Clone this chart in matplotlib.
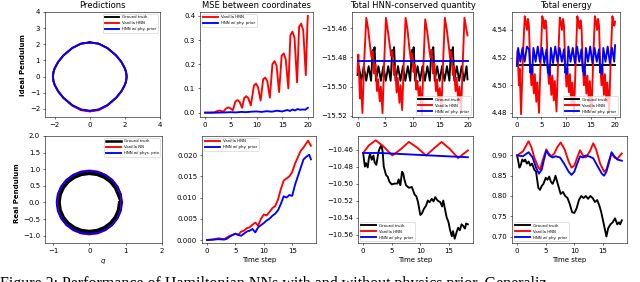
import matplotlib
matplotlib.use("Agg")
import matplotlib.pyplot as plt
from matplotlib.ticker import MultipleLocator

# ---------------- data ----------------
# Ideal pendulum phase portrait (q, p)
q_ideal = [0, 0.5, 1.0, 1.5, 1.8, 2.0, 2.07, 2.1, 2.07, 2.0, 1.8, 1.5, 1.0, 0.5, 0,
           -0.5, -1.0, -1.5, -1.8, -2.0, -2.07, -2.1, -2.07, -2.0, -1.8, -1.5, -1.0, -0.5, 0]
p_ideal = [2.12, 2.04, 1.77, 1.31, 0.91, 0.51, 0.27, 0, -0.27, -0.51, -0.91, -1.31, -1.77, -2.04, -2.12,
           -2.04, -1.77, -1.31, -0.91, -0.51, -0.27, 0, 0.27, 0.51, 0.91, 1.31, 1.77, 2.04, 2.12]
p_ideal_red = [2.12, 2.04, 1.77, 1.31, 0.91, 0.51, 0.27, 0, -0.27, -0.51, -0.92, -1.33, -1.80, -2.08, -2.16,
               -2.08, -1.80, -1.33, -0.92, -0.51, -0.27, 0, 0.27, 0.51, 0.91, 1.31, 1.77, 2.04, 2.12]

# Real pendulum phase portrait
q_real_gt = [0.87, 0.84, 0.753, 0.615, 0.435, 0.225, 0, -0.225, -0.435, -0.615, -0.753, -0.84, -0.87,
             -0.84, -0.753, -0.615, -0.435, -0.225, 0, 0.225, 0.435, 0.615, 0.753, 0.84, 0.87,
             0.792, 0.71, 0.58, 0.41, 0.212, 0, -0.212, -0.41, -0.58, -0.71, -0.792, -0.82,
             -0.792, -0.71, -0.58, -0.41, -0.212, 0, 0.212, 0.41, 0.58, 0.71, 0.792, 0.82]
p_real_gt = [0, 0.238, 0.46, 0.65, 0.797, 0.889, 0.92, 0.889, 0.797, 0.65, 0.46, 0.238, 0,
             -0.238, -0.46, -0.65, -0.797, -0.889, -0.92, -0.889, -0.797, -0.65, -0.46, -0.238, 0,
             0.223, 0.43, 0.608, 0.745, 0.831, 0.86, 0.831, 0.745, 0.608, 0.43, 0.223, 0,
             -0.223, -0.43, -0.608, -0.745, -0.831, -0.86, -0.831, -0.745, -0.608, -0.43, -0.223, 0]
q_real_van = [0.89, 0.86, 0.771, 0.629, 0.445, 0.231, 0, -0.231, -0.445, -0.629, -0.771, -0.86, -0.89,
              -0.86, -0.771, -0.629, -0.445, -0.231, 0, 0.231, 0.445, 0.629, 0.771, 0.86, 0.89]
p_real_van = [0, 0.25, 0.483, 0.682, 0.836, 0.932, 0.965, 0.932, 0.836, 0.682, 0.483, 0.25, 0,
              -0.25, -0.483, -0.682, -0.836, -0.932, -0.965, -0.932, -0.836, -0.682, -0.483, -0.25, 0]
q_real_hnn = [0.90, 0.869, 0.779, 0.636, 0.45, 0.233, 0, -0.233, -0.45, -0.636, -0.779, -0.869, -0.90,
              -0.869, -0.779, -0.636, -0.45, -0.233, 0, 0.233, 0.45, 0.636, 0.779, 0.869, 0.90]
p_real_hnn = [0, 0.246, 0.475, 0.672, 0.823, 0.918, 0.95, 0.918, 0.823, 0.672, 0.475, 0.246, 0,
              -0.246, -0.475, -0.672, -0.823, -0.918, -0.95, -0.918, -0.823, -0.672, -0.475, -0.246, 0]

# Ideal pendulum: MSE between coordinates
t_mse_van = [0, 1, 1.8, 2.3, 2.8, 3.1, 3.6, 4.0, 4.5, 4.9, 5.4, 5.9, 6.3, 6.7, 7.2, 7.6, 8.0, 8.4, 8.9,
             9.5, 9.9, 10.3, 10.8, 11.3, 11.7, 12.1, 12.6, 13.1, 13.5, 13.9, 14.4, 14.9, 15.3, 15.7,
             16.2, 16.6, 17.0, 17.4, 17.9, 18.3, 18.7, 19.1, 19.6, 19.9, 20.0]
mse_van = [0.000, 0.000, 0.001, 0.006, 0.009, 0.007, 0.004, 0.016, 0.022, 0.018, 0.010, 0.046, 0.052,
           0.045, 0.020, 0.060, 0.068, 0.060, 0.030, 0.112, 0.120, 0.105, 0.050, 0.138, 0.145, 0.130,
           0.062, 0.200, 0.213, 0.195, 0.085, 0.235, 0.245, 0.220, 0.100, 0.320, 0.335, 0.310, 0.125,
           0.355, 0.368, 0.340, 0.155, 0.360, 0.400]
t_mse_hnn = [0, 2, 4, 5, 6, 7, 8, 9, 10, 11, 12, 13, 14, 15, 16, 16.5, 17, 17.5, 18, 18.5, 19, 19.5, 20]
mse_hnn = [0, 0, 0.001, 0.002, 0.001, 0.003, 0.002, 0.004, 0.005, 0.003, 0.006, 0.004, 0.008, 0.005,
           0.011, 0.007, 0.013, 0.009, 0.015, 0.012, 0.013, 0.012, 0.020]

# Ideal pendulum: HNN-conserved quantity
t_hq_van = [0, 0.15, 0.45, 0.6, 0.9, 1.2,
            1.6, 1.95, 2.3, 2.55, 2.75, 3.05, 3.25, 3.55, 3.75, 4.05, 4.25, 4.55, 4.85,
            5.17, 5.52, 5.87, 6.12, 6.32, 6.62, 6.82, 7.12, 7.32, 7.62, 7.82, 8.12, 8.42,
            8.74, 9.09, 9.44, 9.69, 9.89, 10.19, 10.39, 10.69, 10.89, 11.19, 11.39, 11.69, 11.99,
            12.31, 12.66, 13.01, 13.26, 13.46, 13.76, 13.96, 14.26, 14.46, 14.76, 14.96, 15.26, 15.56,
            15.88, 16.23, 16.58, 16.83, 17.03, 17.33, 17.53, 17.83, 18.03, 18.33, 18.53, 18.83, 19.13,
            19.45, 19.8, 20.0]
hq_van = [-15.490, -15.478, -15.508, -15.495, -15.518, -15.484,
          -15.453, -15.461, -15.473, -15.480, -15.476, -15.491, -15.485, -15.503, -15.495, -15.510, -15.500, -15.518, -15.484,
          -15.453, -15.462, -15.472, -15.479, -15.476, -15.492, -15.486, -15.504, -15.494, -15.511, -15.499, -15.516, -15.483,
          -15.453, -15.461, -15.474, -15.481, -15.477, -15.490, -15.485, -15.502, -15.496, -15.509, -15.500, -15.519, -15.485,
          -15.454, -15.462, -15.473, -15.480, -15.475, -15.491, -15.484, -15.503, -15.495, -15.510, -15.501, -15.515, -15.484,
          -15.453, -15.461, -15.472, -15.480, -15.476, -15.492, -15.486, -15.503, -15.494, -15.511, -15.500, -15.517, -15.485,
          -15.453, -15.461, -15.465]
t_hq_gt = [0.0, 0.245, 0.69, 1.135, 1.58, 2.025, 2.47, 2.75, 2.92, 3.1, 3.36,
           3.805, 4.25, 4.695, 5.14, 5.585, 6.03, 6.31, 6.48, 6.66, 6.92,
           7.365, 7.81, 8.255, 8.70, 9.145, 9.59, 9.87, 10.04, 10.22, 10.48,
           10.925, 11.37, 11.815, 12.26, 12.705, 13.15, 13.43, 13.60, 13.78, 14.04,
           14.485, 14.93, 15.375, 15.82, 16.265, 16.71, 16.99, 17.16, 17.34, 17.60,
           18.045, 18.49, 18.935, 19.38, 19.825, 20.0]
hq_gt = [-15.492, -15.486, -15.496, -15.486, -15.496, -15.486, -15.496, -15.475, -15.479, -15.473, -15.496,
         -15.486, -15.496, -15.486, -15.496, -15.486, -15.496, -15.475, -15.479, -15.473, -15.496,
         -15.486, -15.496, -15.486, -15.496, -15.486, -15.496, -15.475, -15.479, -15.473, -15.496,
         -15.486, -15.496, -15.486, -15.496, -15.486, -15.496, -15.475, -15.479, -15.473, -15.496,
         -15.486, -15.496, -15.486, -15.496, -15.486, -15.496, -15.475, -15.479, -15.473, -15.496,
         -15.486, -15.496, -15.486, -15.496, -15.486, -15.495]
t_hq_hnn = [0, 20]
hq_hnn = [-15.4823, -15.4823]

# Ideal pendulum: total energy
t_en_van = [0, 0.15, 0.4, 0.55, 0.85, 1.2,
            1.6, 1.85, 2.05, 2.25, 2.45, 2.7, 2.95, 3.15, 3.45, 3.65, 3.95, 4.15, 4.5, 4.85,
            5.17, 5.42, 5.62, 5.82, 6.02, 6.27, 6.52, 6.72, 7.02, 7.22, 7.52, 7.72, 8.07, 8.42,
            8.74, 8.99, 9.19, 9.39, 9.59, 9.84, 10.09, 10.29, 10.59, 10.79, 11.09, 11.29, 11.64, 11.99,
            12.31, 12.56, 12.76, 12.96, 13.16, 13.41, 13.66, 13.86, 14.16, 14.36, 14.66, 14.86, 15.21, 15.56,
            15.88, 16.13, 16.33, 16.53, 16.73, 16.98, 17.23, 17.43, 17.73, 17.93, 18.23, 18.43, 18.78, 19.13,
            19.45, 19.7, 19.85, 20.0]
en_van = [4.514, 4.525, 4.500, 4.512, 4.479, 4.520,
          4.550, 4.545, 4.540, 4.548, 4.543, 4.515, 4.500, 4.512, 4.494, 4.508, 4.488, 4.502, 4.480, 4.520,
          4.550, 4.546, 4.541, 4.547, 4.542, 4.514, 4.501, 4.511, 4.493, 4.507, 4.489, 4.503, 4.481, 4.521,
          4.549, 4.545, 4.540, 4.548, 4.543, 4.516, 4.499, 4.512, 4.495, 4.508, 4.487, 4.502, 4.480, 4.519,
          4.550, 4.545, 4.541, 4.547, 4.542, 4.515, 4.500, 4.511, 4.494, 4.507, 4.488, 4.503, 4.481, 4.520,
          4.550, 4.546, 4.540, 4.548, 4.543, 4.514, 4.500, 4.512, 4.493, 4.508, 4.488, 4.502, 4.480, 4.521,
          4.550, 4.545, 4.543, 4.546]
t_en_gt = [0, 20]
en_gt = [4.5143, 4.5143]
t_en_hnn = t_hq_gt
en_hnn = [4.514, 4.527, 4.517, 4.527, 4.517, 4.528, 4.526, 4.509, 4.513, 4.508, 4.527,
          4.517, 4.528, 4.517, 4.527, 4.516, 4.526, 4.509, 4.513, 4.507, 4.527,
          4.516, 4.528, 4.517, 4.527, 4.517, 4.526, 4.509, 4.512, 4.508, 4.528,
          4.517, 4.527, 4.516, 4.528, 4.517, 4.526, 4.510, 4.513, 4.507, 4.527,
          4.517, 4.528, 4.516, 4.527, 4.517, 4.526, 4.509, 4.513, 4.508, 4.527,
          4.517, 4.528, 4.516, 4.527, 4.517, 4.529]

# Real pendulum: MSE between coordinates
t_rmse_van = [0, 1, 2, 2.5, 3, 3.5, 4, 4.5, 5, 5.5, 6, 6.5, 7, 7.5, 8, 8.5, 9, 9.5, 10, 10.5, 11, 11.5,
              12, 12.5, 13, 13.5, 14, 14.5, 15, 15.5, 16, 16.5, 17, 17.5, 17.8, 18.3]
rmse_van = [0, 0.0001, 0.0004, 0.0003, 0.0002, 0.0006, 0.001, 0.0012, 0.0015, 0.0012, 0.002, 0.0022,
            0.0028, 0.0030, 0.0036, 0.0041, 0.0034, 0.0050, 0.0060, 0.0058, 0.0066, 0.0075, 0.0080,
            0.0095, 0.0120, 0.0140, 0.0145, 0.0150, 0.0160, 0.0180, 0.0195, 0.0210, 0.0218, 0.0228,
            0.0234, 0.0222]
t_rmse_hnn = [0, 1, 2, 3, 3.5, 4, 4.5, 5, 5.5, 6, 6.5, 7, 7.5, 8, 8.5, 9, 9.5, 10, 10.5, 11, 11.5,
              12, 12.5, 13, 13.5, 14, 14.5, 15, 15.5, 16, 16.5, 17, 17.5, 18, 18.3]
rmse_hnn = [0, 0.0001, 0.0002, 0.0001, 0.0003, 0.0008, 0.0012, 0.0015, 0.0012, 0.0010, 0.0015, 0.0020,
            0.0022, 0.0026, 0.0018, 0.0030, 0.0035, 0.0040, 0.0046, 0.0050, 0.0057, 0.0062, 0.0070,
            0.0085, 0.0103, 0.0100, 0.0106, 0.0104, 0.0130, 0.0150, 0.0170, 0.0190, 0.0196, 0.0201,
            0.0190]

# Real pendulum: HNN-conserved quantity
t_rhq_van = [0, 1, 2.2, 3.5, 5.1, 6.5, 8.0, 9.5, 11.0, 12.3, 13.7, 15.1, 16.6, 18.3]
rhq_van = [-10.464, -10.455, -10.449, -10.456, -10.467, -10.460, -10.451, -10.458, -10.467, -10.459,
           -10.451, -10.459, -10.470, -10.461]
t_rhq_gt = [0, 0.3, 0.5, 0.8, 1.0, 1.2, 1.5, 1.8, 2.0, 2.3, 2.5, 2.7, 3.0, 3.2, 3.4, 3.6, 3.8, 4.0, 4.3,
            4.6, 5.0, 5.5, 6.0, 6.2, 6.5, 6.8, 7.0, 7.2, 7.5, 8.0, 8.5, 9.0, 9.3, 9.6, 9.8, 10.0, 10.3,
            10.6, 11.0, 11.3, 11.6, 12.0, 12.3, 12.6, 13.0, 13.5, 13.8, 14.0, 14.3, 14.6, 14.9, 15.2,
            15.5, 15.7, 16.0, 16.3, 16.6, 16.9, 17.2, 17.5, 17.8, 18.0, 18.3]
rhq_gt = [-10.464, -10.480, -10.476, -10.481, -10.470, -10.465, -10.472, -10.467, -10.475, -10.478,
          -10.470, -10.462, -10.457, -10.455, -10.462, -10.480, -10.485, -10.490, -10.492, -10.498,
          -10.501, -10.500, -10.500, -10.495, -10.502, -10.486, -10.488, -10.495, -10.502, -10.505,
          -10.504, -10.513, -10.515, -10.522, -10.530, -10.537, -10.535, -10.530, -10.526, -10.520,
          -10.522, -10.518, -10.521, -10.516, -10.520, -10.522, -10.527, -10.520, -10.530, -10.540,
          -10.545, -10.555, -10.562, -10.556, -10.565, -10.558, -10.552, -10.555, -10.548, -10.550,
          -10.553, -10.547, -10.548]
t_rhq_hnn = [0, 3, 6, 9, 12, 15, 18.3]
rhq_hnn = [-10.464, -10.464, -10.465, -10.466, -10.467, -10.468, -10.469]

# Real pendulum: total energy
t_ren_van = [0, 1, 2, 2.5, 3, 3.7, 4, 4.5, 5.1, 5.5, 6, 6.5, 7, 7.6, 8.3, 9, 9.5, 10, 10.5, 11, 11.5,
             12, 12.7, 13.3, 13.8, 14.5, 15.2, 15.6, 16, 16.5, 17, 17.5, 18.3]
ren_van = [0.90, 0.91, 0.935, 0.92, 0.895, 0.87, 0.865, 0.89, 0.915, 0.905, 0.898, 0.905, 0.92, 0.932,
           0.915, 0.885, 0.87, 0.875, 0.895, 0.913, 0.90, 0.895, 0.91, 0.93, 0.915, 0.88, 0.86, 0.865,
           0.885, 0.905, 0.895, 0.892, 0.905]
t_ren_hnn = [0, 1, 2, 2.7, 3.3, 3.8, 4.3, 4.7, 5.1, 5.6, 6.2, 6.7, 7.5, 8.2, 9, 9.5, 10, 10.5, 11, 11.5,
             12, 12.7, 13.3, 14, 14.8, 15.2, 15.6, 16.1, 16.5, 17, 17.5, 18.3]
ren_hnn = [0.90, 0.898, 0.908, 0.895, 0.87, 0.855, 0.865, 0.89, 0.912, 0.90, 0.895, 0.898, 0.895, 0.88,
           0.86, 0.852, 0.86, 0.88, 0.898, 0.895, 0.90, 0.897, 0.893, 0.875, 0.855, 0.85, 0.86, 0.885,
           0.908, 0.898, 0.89, 0.887]
t_ren_gt = [0, 0.4, 0.6, 0.9, 1.2, 1.4, 1.7, 2.0, 2.3, 2.6, 3.0, 3.3, 3.7, 4.0, 4.3, 4.6, 5.0, 5.3, 5.6,
            5.9, 6.2, 6.5, 6.7, 7.0, 7.3, 7.6, 8.0, 8.4, 8.8, 9.2, 9.6, 10.0, 10.4, 10.8, 11.2, 11.6,
            12.0, 12.4, 12.8, 13.2, 13.6, 14.0, 14.4, 14.7, 15.0, 15.3, 15.6, 15.9, 16.3, 16.7, 17.1,
            17.5, 17.8, 18.0, 18.3]
ren_gt = [0.90, 0.87, 0.875, 0.89, 0.885, 0.89, 0.88, 0.885, 0.875, 0.88, 0.865, 0.86, 0.82, 0.815,
          0.825, 0.83, 0.845, 0.84, 0.848, 0.835, 0.83, 0.84, 0.85, 0.835, 0.82, 0.805, 0.81, 0.80,
          0.795, 0.78, 0.76, 0.758, 0.77, 0.79, 0.80, 0.795, 0.80, 0.793, 0.80, 0.795, 0.785, 0.79,
          0.775, 0.76, 0.74, 0.72, 0.70, 0.72, 0.73, 0.735, 0.745, 0.73, 0.735, 0.73, 0.74]

titles = ["Predictions", "MSE between coordinates", "Total HNN-conserved quantity", "Total energy"]
row_labels = ["Ideal Pendulum", "Real Pendulum"]
lbl_gt, lbl_van, lbl_hnn = "Ground truth", "Vanilla HNN", "HNN w/ phy. prior"
caption = "Figure 2: Performance of Hamiltonian NNs with and without physics prior. Generaliz"

# ---------------- figure ----------------
fig = plt.figure(figsize=(12.8, 5.64), dpi=50)
W, H = 640.0, 282.0


def add_ax(x0, x1, y0, y1):
    return fig.add_axes([x0 / W, 1 - y1 / H, (x1 - x0) / W, (y1 - y0) / H])


LW = 2.7
leg_kw = dict(fontsize=5.5, handlelength=3.8)

# Top row
a = add_ax(45, 160, 12, 117)
a.plot(q_ideal, p_ideal, color="black", lw=LW, label=lbl_gt)
a.plot(q_ideal, p_ideal_red, color="red", lw=LW, label=lbl_van)
a.plot(q_ideal, p_ideal, color="blue", lw=LW, label=lbl_hnn)
a.set_xlim(-2.55, 4.0)
a.set_ylim(-2.5, 4.0)
a.xaxis.set_major_locator(MultipleLocator(2))
a.yaxis.set_major_locator(MultipleLocator(1))
a.set_title(titles[0])
a.legend(loc="upper right", **leg_kw)

a = add_ax(200, 313, 12, 117)
a.plot(t_mse_van, mse_van, color="red", lw=LW, label=lbl_van)
a.plot(t_mse_hnn, mse_hnn, color="blue", lw=LW, label=lbl_hnn)
a.set_xlim(-1, 21)
a.set_ylim(-0.018, 0.416)
a.xaxis.set_major_locator(MultipleLocator(5))
a.yaxis.set_major_locator(MultipleLocator(0.1))
a.set_title(titles[1])
a.legend(loc="upper left", **leg_kw)

a = add_ax(352, 473, 12, 117)
a.plot(t_hq_gt, hq_gt, color="black", lw=LW, label=lbl_gt)
a.plot(t_hq_van, hq_van, color="red", lw=LW, label=lbl_van)
a.plot(t_hq_hnn, hq_hnn, color="blue", lw=LW, label=lbl_hnn)
a.set_xlim(-1, 21)
a.set_ylim(-15.5207, -15.449)
a.xaxis.set_major_locator(MultipleLocator(5))
a.yaxis.set_major_locator(MultipleLocator(0.02))
a.set_title(titles[2])
a.legend(loc="lower right", **leg_kw)

a = add_ax(512, 620, 12, 117)
a.plot(t_en_gt, en_gt, color="black", lw=LW, label=lbl_gt)
a.plot(t_en_van, en_van, color="red", lw=LW, label=lbl_van)
a.plot(t_en_hnn, en_hnn, color="blue", lw=LW, label=lbl_hnn)
a.set_xlim(-1, 21)
a.set_ylim(4.477, 4.553)
a.xaxis.set_major_locator(MultipleLocator(5))
a.yaxis.set_major_locator(MultipleLocator(0.02))
a.set_title(titles[3])
a.legend(loc="lower right", **leg_kw)

# Bottom row
a = add_ax(45, 162, 136, 243)
a.plot(q_real_gt, p_real_gt, color="black", lw=3.6, label=lbl_gt)
a.plot(q_real_van, p_real_van, color="red", lw=LW, label="Vanilla NN")
a.plot(q_real_hnn, p_real_hnn, color="blue", lw=LW, label="HNN w/ phys. prio")
a.set_xlim(-1.22, 2.0)
a.set_ylim(-1.22, 2.0)
a.xaxis.set_major_locator(MultipleLocator(1))
a.yaxis.set_major_locator(MultipleLocator(0.5))
a.set_xlabel("$q$")
a.legend(loc="upper right", **leg_kw)

a = add_ax(202, 316, 136, 243)
a.plot(t_rmse_van, rmse_van, color="red", lw=LW, label=lbl_van)
a.plot(t_rmse_hnn, rmse_hnn, color="blue", lw=LW, label=lbl_hnn)
a.set_xlim(-0.9, 19.2)
a.set_ylim(-0.0007, 0.0245)
a.xaxis.set_major_locator(MultipleLocator(5))
a.yaxis.set_major_locator(MultipleLocator(0.005))
a.set_xlabel("Time step")
a.legend(loc="upper left", **leg_kw)

a = add_ax(358, 473, 136, 243)
a.plot(t_rhq_gt, rhq_gt, color="black", lw=LW, label=lbl_gt)
a.plot(t_rhq_van, rhq_van, color="red", lw=LW, label=lbl_van)
a.plot(t_rhq_hnn, rhq_hnn, color="blue", lw=LW, label=lbl_hnn)
a.set_xlim(-0.9, 19.2)
a.set_ylim(-10.570, -10.444)
a.xaxis.set_major_locator(MultipleLocator(5))
a.yaxis.set_major_locator(MultipleLocator(0.02))
a.set_xlabel("Time step")
a.legend(loc="lower left", **leg_kw)

a = add_ax(512, 627, 136, 243)
a.plot(t_ren_gt, ren_gt, color="black", lw=LW, label=lbl_gt)
a.plot(t_ren_van, ren_van, color="red", lw=LW, label=lbl_van)
a.plot(t_ren_hnn, ren_hnn, color="blue", lw=LW, label=lbl_hnn)
a.set_xlim(-0.9, 19.2)
a.set_ylim(0.684, 0.948)
a.xaxis.set_major_locator(MultipleLocator(5))
a.yaxis.set_major_locator(MultipleLocator(0.05))
a.set_xlabel("Time step")
a.legend(loc="lower left", **leg_kw)

fig.text(23 / W, 1 - 65 / H, row_labels[0], rotation=90, fontweight="bold", ha="center", va="center")
fig.text(17 / W, 1 - 193 / H, row_labels[1], rotation=90, fontweight="bold", ha="center", va="center")

fig.text(0.0, 1 - 288 / H, caption, family="Liberation Serif", fontsize=23, ha="left", va="baseline")

fig.savefig("out.png", dpi=50)
